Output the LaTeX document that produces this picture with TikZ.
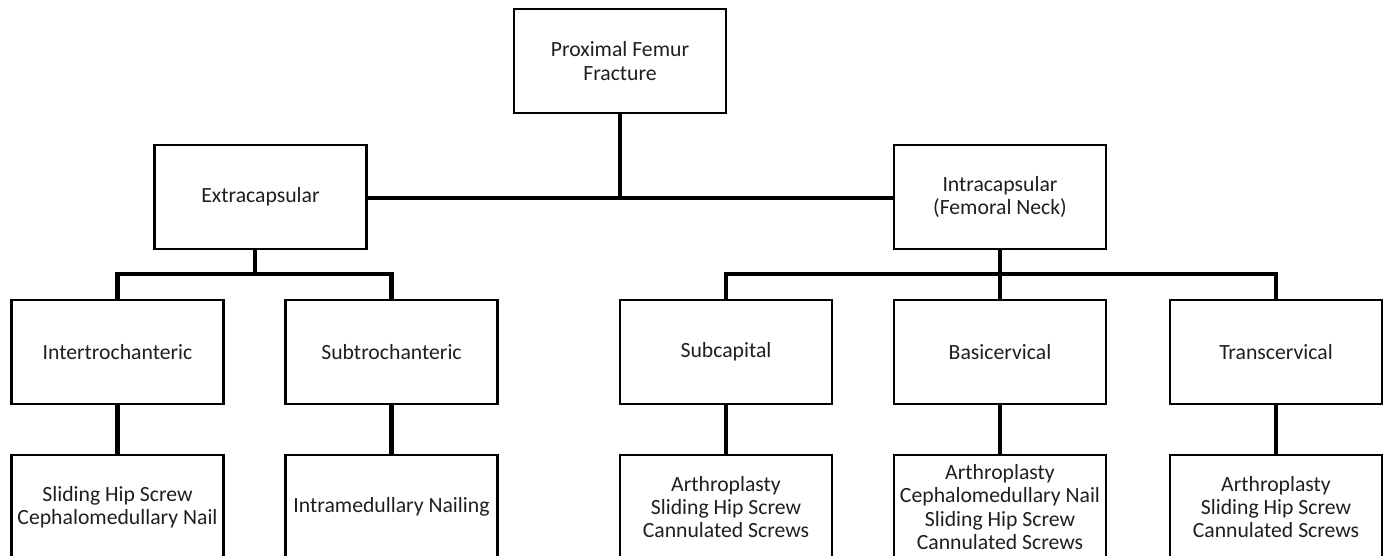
\documentclass[tikz,border=0pt]{standalone}
\usepackage{fontspec}
\setmainfont{Carlito}
\usetikzlibrary{calc}
\newcommand{\boxfont}{\fontsize{21.7}{23.3}\selectfont}
\begin{document}
\begin{tikzpicture}[x=1pt,y=-1pt,
  box/.style={draw,line width=2.6pt,minimum width=212pt,minimum height=104pt,
    align=center,inner sep=2pt,outer sep=0pt,font=\boxfont,text=black!88},
  leaf/.style={box},
  conn/.style={line width=4.6pt,line join=miter}]
\useasboundingbox (0,0) rectangle (1387,556);
\clip (0,0) rectangle (1387,556);
\fill[white] (0,0) rectangle (1387,556);
% level 0
\node[box] (top) at (620,61) {Proximal Femur\\Fracture};
% level 1
\node[box] (ext) at (260.5,197) {Extracapsular};
\node[box] (intra) at (1000,197) {Intracapsular\\(Femoral Neck)};
% level 2
\node[box] (inter) at (117.5,352) {Intertrochanteric};
\node[box] (subt) at (391.5,352) {Subtrochanteric};
\node[box] (subc) at (726,352) {Subcapital};
\node[box] (basi) at (1000,352) {Basicervical};
\node[box] (trans) at (1276,352) {Transcervical};
% level 3
\node[leaf] (t1) at (117.5,507) {Sliding Hip Screw\\Cephalomedullary Nail};
\node[leaf] (t2) at (391.5,507) {Intramedullary Nailing};
\node[leaf] (t3) at (726,507) {Arthroplasty\\Sliding Hip Screw\\Cannulated Screws};
\node[leaf] (t4) at (1000,507) {Arthroplasty\\Cephalomedullary Nail\\Sliding Hip Screw\\Cannulated Screws};
\node[leaf] (t5) at (1276,507) {Arthroplasty\\Sliding Hip Screw\\Cannulated Screws};
% connectors
\coordinate (mid) at (620,198);
\coordinate (busL) at (255,274);
\coordinate (busR) at (1000,274);
\draw[conn] (top.south) -- (mid);
\draw[conn] (ext.east |- mid) -- (intra.west |- mid);
\draw[conn] (busL |- ext.south) -- (busL);
\draw[conn] (inter.north) -- (inter.north |- busL) -- (subt.north |- busL) -- (subt.north);
\draw[conn] (intra.south) -- (busR);
\draw[conn] (subc.north) -- (subc.north |- busR) -- (trans.north |- busR) -- (trans.north);
\draw[conn] (basi.north) -- (busR);
\draw[conn] (inter.south) -- (t1.north);
\draw[conn] (subt.south) -- (t2.north);
\draw[conn] (subc.south) -- (t3.north);
\draw[conn] (basi.south) -- (t4.north);
\draw[conn] (trans.south) -- (t5.north);
\end{tikzpicture}
\end{document}
